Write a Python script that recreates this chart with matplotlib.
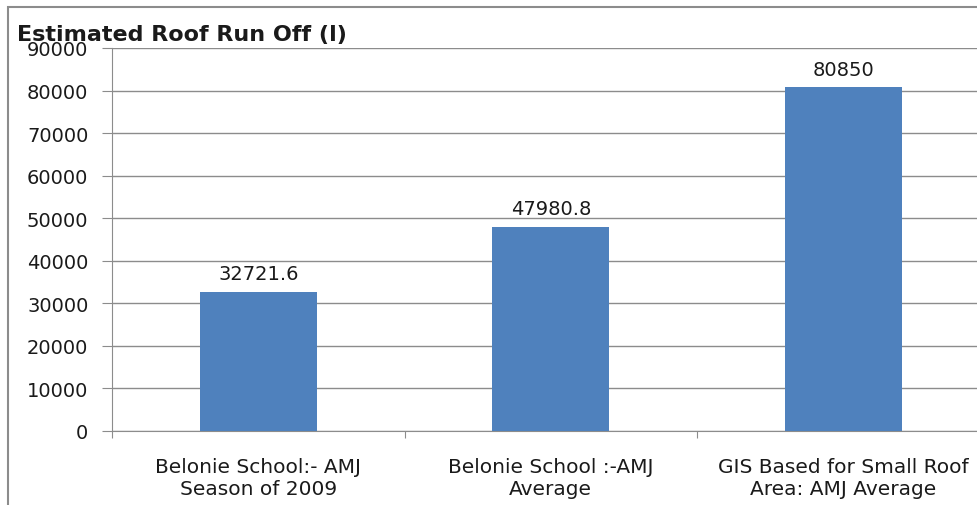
import matplotlib.pyplot as plt
import matplotlib.patches as patches

categories = ['Belonie School:- AMJ\nSeason of 2009',
              'Belonie School :-AMJ\nAverage',
              'GIS Based for Small Roof\nArea: AMJ Average']
values = [32721.6, 47980.8, 80850]
value_labels = ['32721.6', '47980.8', '80850']
yticks = [0, 10000, 20000, 30000, 40000, 50000, 60000, 70000, 80000, 90000]

plt.rcParams['font.family'] = ['DejaVu Sans']

fig = plt.figure(figsize=(9.77, 5.06), dpi=100)
ax = fig.add_axes([112 / 977, 1 - 432 / 506, 877.5 / 977, 383 / 506])

# 图表外框（只露出上边和左边）
fig.patches.append(patches.Rectangle((8 / 977, -0.1), 1.2, 1 - 8 / 506 + 0.1,
                                     transform=fig.transFigure, fill=False,
                                     edgecolor='#8c8c8c', linewidth=1.5))

x = range(len(values))
ax.bar(x, values, width=0.4, color='#4f81bd', zorder=3)
for i, v in enumerate(values):
    ax.annotate(value_labels[i], (i, v), xytext=(0, 6), textcoords='offset points',
                ha='center', va='bottom', fontsize=14, color='#1a1a1a')

ax.set_xlim(-0.5, 2.5)
ax.set_ylim(0, 90000)
ax.set_yticks(yticks)
ax.set_yticklabels([str(t) for t in yticks], fontsize=14, color='#1a1a1a')
ax.yaxis.grid(True, color='#8c8c8c', linewidth=1, zorder=0)
ax.tick_params(axis='y', length=7, color='#8c8c8c', pad=10)

ax.set_xticks([-0.5, 0.5, 1.5, 2.5])
ax.set_xticklabels([])
ax.set_xticks(list(x), minor=True)
ax.set_xticklabels(categories, minor=True, fontsize=14.5, color='#1a1a1a', linespacing=1.15)
ax.tick_params(axis='x', which='major', length=5, color='#8c8c8c')
ax.tick_params(axis='x', which='minor', length=0, pad=19)

for s in ['top', 'right']:
    ax.spines[s].set_visible(False)
ax.spines['left'].set_color('#8c8c8c')
ax.spines['bottom'].set_color('#8c8c8c')

fig.text(17 / 977, 1 - 35 / 506, 'Estimated Roof Run Off (l)', fontsize=16,
         fontweight='bold', ha='left', va='center', color='#1a1a1a')

fig.savefig('out.png', dpi=100)
